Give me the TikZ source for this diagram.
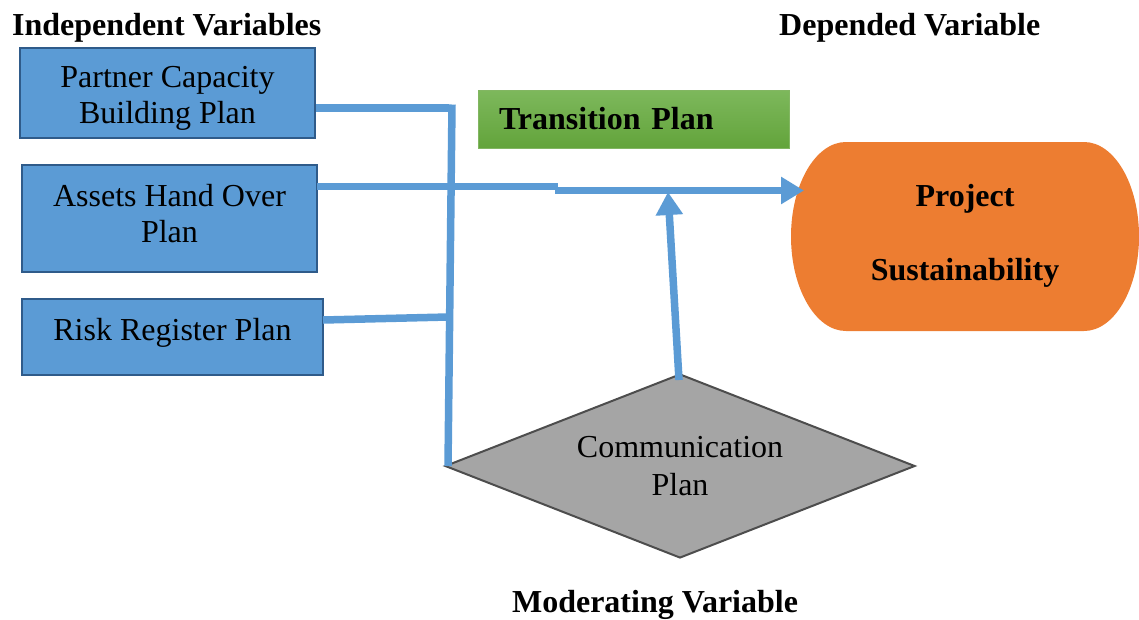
\documentclass[tikz,border=0pt]{standalone}
\usepackage{fontspec}
\setmainfont{Liberation Serif}
\usetikzlibrary{shapes.geometric,arrows.meta}
\definecolor{boxblue}{HTML}{5B9BD5}
\definecolor{boxedge}{HTML}{2F5B8A}
\definecolor{lineblue}{HTML}{5B9BD5}
\definecolor{orangefill}{HTML}{ED7D31}
\definecolor{greytop}{HTML}{A5A5A5}
\definecolor{greyedge}{HTML}{4D4D4D}
\definecolor{greentop}{HTML}{7DB85C}
\definecolor{greenbot}{HTML}{63A43B}
\tikzset{
  ivbox/.style={draw=boxedge, line width=2.5pt, fill=boxblue, inner sep=0pt},
  ivtext/.style={inner sep=0pt, align=center, font=\fontsize{32}{36}\selectfont},
  title/.style={font=\bfseries\fontsize{32}{36}\selectfont, inner sep=0pt},
  conn/.style={draw=lineblue, line width=7.5pt},
  arr/.style={conn, -{Triangle[length=23pt,width=26pt]}},
}
\begin{document}
\begin{tikzpicture}[x=1pt,y=-1pt]
\useasboundingbox (0,0) rectangle (1139,619);

% titles
\node[title, anchor=west] (tiv) at (12,28) {Independent Variables};
\node[title, anchor=west] (tdv) at (779,28) {Depended Variable};
\node[title] (tmv) at (655,605) {Moderating Variable};

% independent variable boxes
\node[ivbox, minimum width=295pt, minimum height=90pt] (b1) at (167.5,93) {};
\node[ivtext] (b1t) at (167.5,98) {Partner Capacity\\Building Plan};
\node[ivbox, minimum width=295pt, minimum height=107pt] (b2) at (169.5,218.5) {};
\node[ivtext] (b2t) at (169.5,213.5) {Assets Hand Over\\Plan};
\node[ivbox, minimum width=301pt, minimum height=76pt] (b3) at (172.5,337) {};
\node[ivtext] (b3t) at (172.5,333) {Risk Register Plan};

% transition plan
\node[top color=greentop, bottom color=greenbot, draw=greenbot!80!white, line width=0.8pt,
      minimum width=311pt, minimum height=58pt, inner xsep=21pt, inner ysep=0pt,
      text width=269pt, align=left, font=\bfseries\fontsize{32}{36}\selectfont] (tp) at (633.5,119) {Transition Plan};

% project sustainability
\fill[orangefill] (846,142) -- (1084,142)
  .. controls (1114.4,142) and (1139,184.3) .. (1139,236.5)
  .. controls (1139,288.7) and (1114.4,331) .. (1084,331)
  -- (846,331)
  .. controls (815.6,331) and (791,288.7) .. (791,236.5)
  .. controls (791,184.3) and (815.6,142) .. (846,142) -- cycle;
\node[inner sep=0pt, minimum width=348pt, minimum height=189pt, align=center,
      font=\bfseries\fontsize{32}{74}\selectfont] (ps) at (965,235.5) {Project\\Sustainability};

% communication plan
\node[diamond, aspect=2.554, draw=greyedge, line width=2pt, fill=greytop, inner sep=0pt,
      minimum width=470pt, minimum height=184pt, align=center,
      font=\fontsize{32}{38}\selectfont] (cp) at (680,466) {Communication\\Plan};

% connectors
\coordinate (j1) at (449,108);
\coordinate (vtop) at (452,104.5);
\coordinate (vbot) at (448,466);
\coordinate (s3) at (323,320);
\coordinate (j3) at (448,317);
\coordinate (s2) at (317,186.5);
\coordinate (k2) at (558,186.5);
\coordinate (k2b) at (555,190.5);
\coordinate (tip2) at (804,190.5);
\coordinate (tipup) at (668,192);
\coordinate (cpt) at (679,380);

\draw[conn] (b1.east |- j1) -- (j1);
\draw[conn] (vtop) -- (vbot);
\draw[conn] (s3) -- (j3);
\draw[conn] (s2) -- (k2);
\draw[arr] (k2b) -- (tip2);
\draw[arr] (cpt) -- (tipup);
\end{tikzpicture}
\end{document}
